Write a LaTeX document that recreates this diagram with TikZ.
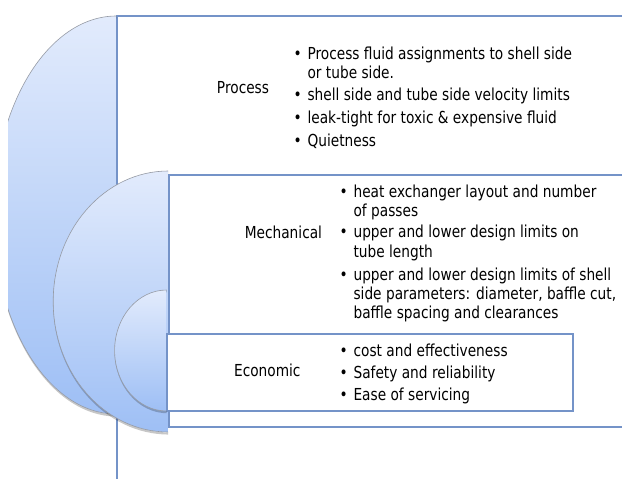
\documentclass[tikz,border=0pt]{standalone}
\usepackage{fontspec}
\setmainfont{DejaVu Sans}[FakeStretch=0.83]
\definecolor{boxblue}{RGB}{116,147,200}
\definecolor{lobetop}{RGB}{226,235,252}
\definecolor{lobebot}{RGB}{158,191,245}
\definecolor{rimgray}{RGB}{150,155,165}
\newcommand\dgfont{\fontsize{12.4}{14.6}\selectfont}
\newcommand\bul{\llap{\textbullet\kern4.3pt}}
\begin{document}
\begin{tikzpicture}[x=0.75pt,y=-0.75pt,
  boxline/.style={draw=boxblue, line width=1.1pt, fill=white},
  lobe/.style={top color=lobetop, bottom color=lobebot},
  rim/.style={draw=rimgray, line width=0.45pt},
  shadowrim/.style={draw=black, opacity=0.22, line width=1.6pt},
  item/.style={anchor=base west, inner sep=0pt, font=\dgfont},
  head/.style={anchor=base, inner sep=0pt, font=\dgfont}]
\useasboundingbox (0,0) rectangle (622,479);
\clip (0,0) rectangle (622,479);

% ---------- Process ----------
\path[boxline] (117,16) rectangle (640,500);
\node[head] (proc) at (243,93.3) {Process};
\node[item] (p1) at (307.3,59.3) {\bul Process fluid assignments to shell side};
\node[item] (p2) at (307.3,78.7) {or tube side.};
\node[item] (p3) at (307.3,100.5) {\bul shell side and tube side velocity limits};
\node[item] (p4) at (307.3,123.2) {\bul leak-tight for toxic \& expensive fluid};
\node[item] (p5) at (307.3,146) {\bul Quietness};

\begin{scope}
  \clip (8,0) rectangle (116.4,479);
  \draw[shadowrim] (117.4,17.5) arc[start angle=270,end angle=90,x radius=123,y radius=199];
  \shade[lobe] (116.4,16) arc[start angle=270,end angle=90,x radius=123,y radius=199] -- cycle;
  \draw[rim] (116.4,16) arc[start angle=270,end angle=90,x radius=123,y radius=199];
\end{scope}

% ---------- Mechanical ----------
\path[boxline] (169,175) rectangle (640,427);
\node[head] (mech) at (283.4,238.3) {Mechanical};
\node[item] (m1) at (353.3,197.3) {\bul heat exchanger layout and number};
\node[item] (m2) at (353.3,216.5) {of passes};
\node[item] (m3) at (353.3,237.8) {\bul upper and lower design limits on};
\node[item] (m4) at (353.3,257.3) {tube length};
\node[item] (m5) at (353.3,280) {\bul upper and lower design limits of shell};
\node[item] (m6) at (353.3,299.8) {side parameters: diameter, baffle cut,};
\node[item] (m7) at (353.3,318.7) {baffle spacing and clearances};

\begin{scope}
  \clip (0,0) rectangle (168.2,479);
  \draw[shadowrim] (169.2,172.5) arc[start angle=270,end angle=90,x radius=115,y radius=130.5];
  \shade[lobe] (168.2,171) arc[start angle=270,end angle=90,x radius=115,y radius=130.5] -- cycle;
  \draw[rim] (168.2,171) arc[start angle=270,end angle=90,x radius=115,y radius=130.5];
\end{scope}

% ---------- Economic ----------
\path[boxline] (167,334) rectangle (573,411);
\node[head] (econ) at (267.3,376.7) {Economic};
\node[item] (e1) at (353.3,356) {\bul cost and effectiveness};
\node[item] (e2) at (353.3,378.3) {\bul Safety and reliability};
\node[item] (e3) at (353.3,400.7) {\bul Ease of servicing};

\begin{scope}
  \clip (0,0) rectangle (166.6,479);
  \draw[shadowrim] (167.6,291.2) arc[start angle=270,end angle=90,x radius=52,y radius=60.5];
  \shade[lobe] (166.6,290) arc[start angle=270,end angle=90,x radius=52,y radius=60.5] -- cycle;
  \draw[rim] (166.6,290) arc[start angle=270,end angle=90,x radius=52,y radius=60.5];
\end{scope}
\end{tikzpicture}
\end{document}
